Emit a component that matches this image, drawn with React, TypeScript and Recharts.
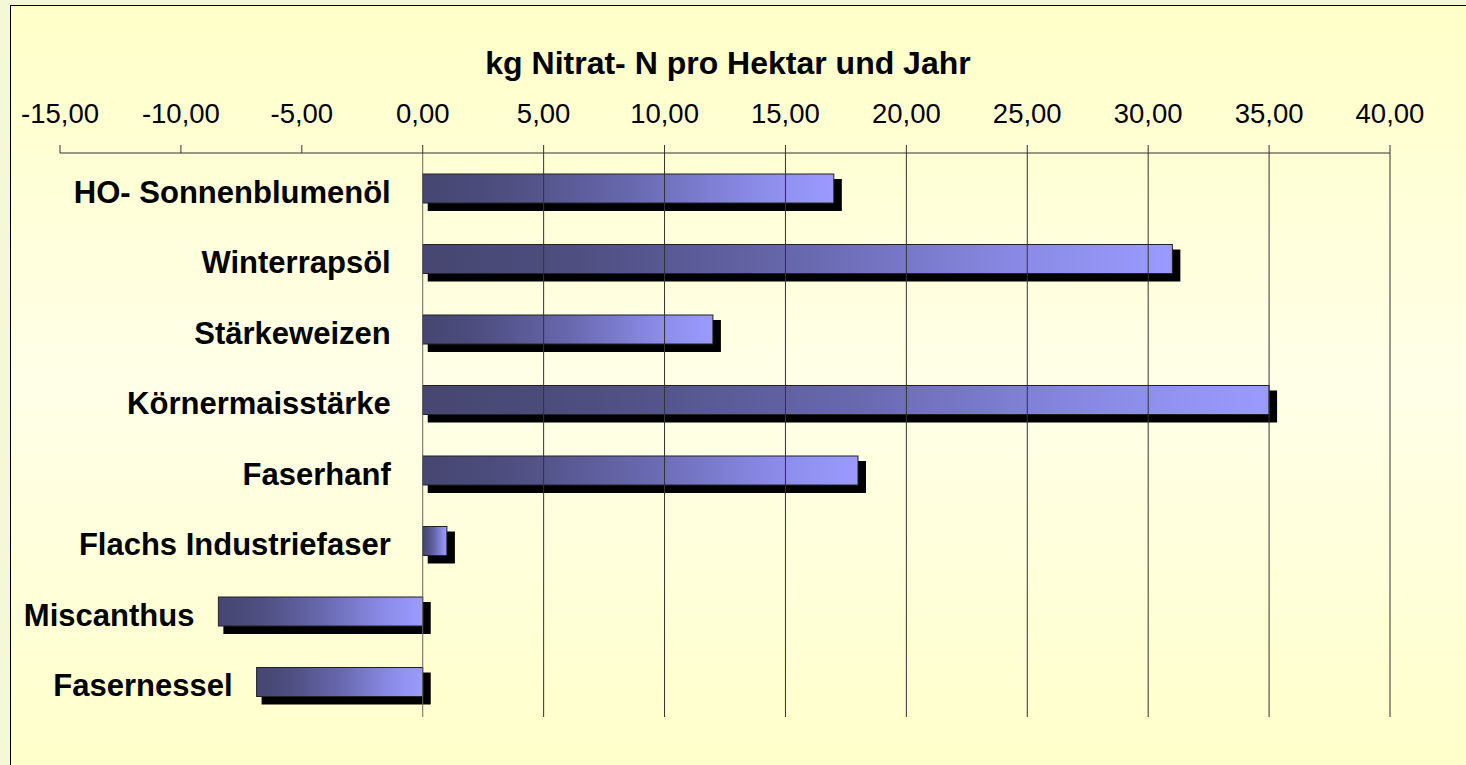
import React from 'react';
import { BarChart, Bar, XAxis, YAxis, ReferenceLine, LabelList } from 'recharts';

const categories = [
  'HO- Sonnenblumenöl',
  'Winterrapsöl',
  'Stärkeweizen',
  'Körnermaisstärke',
  'Faserhanf',
  'Flachs Industriefaser',
  'Miscanthus',
  'Fasernessel',
];
const values = [17.0, 31.0, 12.0, 35.0, 18.0, 1.0, -8.45, -6.87];
const axisTicks = [-15, -10, -5, 0, 5, 10, 15, 20, 25, 30, 35, 40];
const gridTicks = [0, 5, 10, 15, 20, 25, 30, 35, 40];
const title = 'kg Nitrat- N pro Hektar und Jahr';

const data = categories.map((name, i) => ({ name, value: values[i] }));

const FONT = '"Liberation Sans", Arial, sans-serif';

const fmt = (v: number) => v.toFixed(2).replace('.', ',');

const BarShape = (props: any) => {
  const { x, y, width, height } = props;
  const left = width < 0 ? x + width : x;
  const w = Math.abs(width);
  return (
    <g>
      <rect x={left + 5} y={y + 5} width={w + 3} height={height + 3} fill="#000" />
      <rect x={left} y={y} width={w} height={height} fill="url(#barGrad)" stroke="#222" strokeWidth={1} />
    </g>
  );
};

const BarLabel = (props: any) => {
  const { x, y, width, height, index } = props;
  const left = width < 0 ? x + width : x;
  const gap = values[index] < 0 ? 24 : 32;
  return (
    <text
      x={left - gap}
      y={y + height / 2 + 14}
      textAnchor="end"
      fontFamily={FONT}
      fontWeight="bold"
      fontSize={31}
      fill="#000"
    >
      {categories[index]}
    </text>
  );
};

const Tick = (props: any) => {
  const { x, y, payload } = props;
  return (
    <text x={x} y={y - 20} textAnchor="middle" fontFamily={FONT} fontSize={27.5} fill="#000">
      {fmt(payload.value)}
    </text>
  );
};

export default function App() {
  return (
    <div
      style={{
        position: 'fixed',
        left: 0,
        top: 0,
        width: 1520,
        height: 800,
        overflow: 'hidden',
        background: '#F4F8D6',
      }}
    >
      <div
        style={{
          position: 'absolute',
          left: 10,
          top: 5,
          right: 0,
          bottom: 0,
          borderLeft: '1.5px solid #000',
          borderTop: '1.5px solid #000',
          background: 'linear-gradient(to bottom, #FFFFC8 0%, #FFFFE8 48%, #FFFFC8 100%)',
        }}
      />
      <div
        style={{
          position: 'absolute',
          left: 0,
          top: 44,
          width: 1456,
          textAlign: 'center',
          fontFamily: FONT,
          fontWeight: 'bold',
          fontSize: 32,
          lineHeight: '38px',
          color: '#000',
        }}
      >
        {title}
      </div>
      <div style={{ position: 'absolute', left: 0, top: 0 }}>
        <BarChart
          width={1466}
          height={765}
          data={data}
          layout="vertical"
          margin={{ top: 0, right: 76, bottom: 48, left: 60 }}
          barSize={29}
        >
          <defs>
            <linearGradient id="barGrad" x1="0" y1="0" x2="1" y2="0">
              <stop offset="0%" stopColor="#464670" />
              <stop offset="20%" stopColor="#4E4E80" />
              <stop offset="50%" stopColor="#6767AD" />
              <stop offset="80%" stopColor="#8A8AE6" />
              <stop offset="100%" stopColor="#9B9BFF" />
            </linearGradient>
          </defs>
          <XAxis
            type="number"
            orientation="top"
            domain={[-15, 40]}
            ticks={axisTicks}
            allowDataOverflow
            height={153}
            tick={<Tick />}
            tickSize={8}
            tickLine={{ stroke: '#333' }}
            axisLine={{ stroke: '#333' }}
            interval={0}
          />
          <YAxis type="category" dataKey="name" hide />
          {gridTicks.map((t) => (
            <ReferenceLine key={t} x={t} stroke={t === 0 ? '#666' : '#333'} strokeWidth={1} ifOverflow="extendDomain" />
          ))}
          <Bar dataKey="value" isAnimationActive={false} shape={<BarShape />}>
            <LabelList dataKey="value" content={<BarLabel />} />
          </Bar>
        </BarChart>
      </div>
    </div>
  );
}
